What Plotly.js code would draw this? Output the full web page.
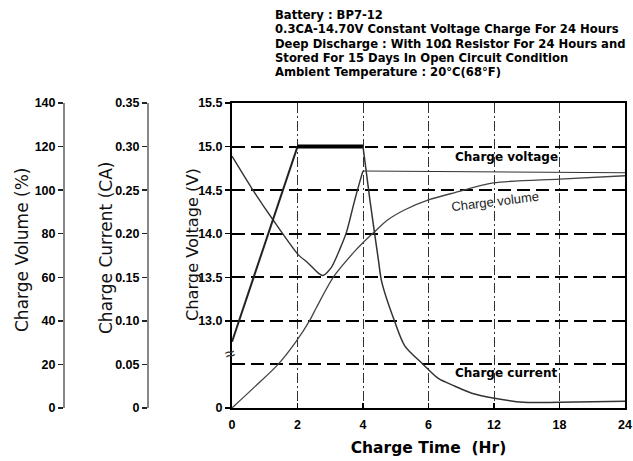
<!DOCTYPE html>
<html>
<head>
<meta charset="utf-8">
<script src="https://cdn.plot.ly/plotly-3.0.1.min.js"></script>
<style>html,body{margin:0;padding:0;background:#fff;}#chart{width:633px;height:461px;}</style>
</head>
<body>
<div id="chart"></div>
<script>
// ---- data (hours on the charge-time axis) ----
const timeTickHours = [0, 2, 4, 6, 12, 18, 24];
const timeTickText = ["0", "2", "4", "6", "12", "18", "24"];

const currentHours = [0, 2, 4, 4.21, 4.47, 4.57, 4.96, 5.28, 5.84, 6.9, 8.43, 9.96, 11.9, 14.7, 18, 24];
const currentCA    = [0.076, 0.300, 0.300, 0.239, 0.170, 0.145, 0.100, 0.071, 0.050, 0.034, 0.025, 0.017, 0.0115, 0.0065, 0.0066, 0.0078];

const voltageHours = [0, 0.59, 1.25, 2.02, 2.32, 2.63, 2.78, 3.03, 3.29, 3.49, 3.75, 3.95, 4, 24];
const voltageV     = [14.89, 14.53, 14.16, 13.76, 13.665, 13.55, 13.52, 13.61, 13.82, 14.01, 14.39, 14.66, 14.72, 14.70];

const volumeHours = [0, 0.70, 1.40, 1.96, 2.37, 2.57, 3.11, 3.75, 3.96, 4.31, 4.76, 5.28, 6, 8.43, 11.93, 18, 24];
const volumePct   = [0, 9.8, 19.9, 30.6, 40.1, 45.9, 60.4, 72.0, 75.3, 80.3, 86.4, 91, 95.5, 98.9, 103.3, 105.1, 106.6];

const voltageTickVals = [12, 13, 13.5, 14, 14.5, 15, 15.5];
const voltageTickText = ["0", "13.0", "13.5", "14.0", "14.5", "15.0", "15.5"];
const currentTickVals = [0, 0.05, 0.10, 0.15, 0.20, 0.25, 0.30, 0.35];
const currentTickText = ["0", "0.05", "0.10", "0.15", "0.20", "0.25", "0.30", "0.35"];

const headerLines = [
  "Battery : BP7-12",
  "0.3CA-14.70V Constant Voltage Charge For 24 Hours",
  "Deep Discharge : With 10\u03A9 Resistor For 24 Hours and",
  "Stored For 15 Days In Open Circuit Condition",
  "Ambient Temperature : 20\u00B0C(68\u00B0F)"
];
const yTitles = ["Charge Volume (%)", "Charge Current (CA)", "Charge Voltage (V)"];

// piecewise time axis: 0-6 h at 2 h per division, 6-24 h at 6 h per division
function timeScale(h) { return h <= 6 ? h / 2 : 3 + (h - 6) / 6; }
function slice(xs, ys, lo, hi) {
  const a = [], b = [];
  xs.forEach((h, i) => { if (h >= lo && h <= hi) { a.push(timeScale(h)); b.push(ys[i]); } });
  return { x: a, y: b };
}

const FONT = "Liberation Sans, Arial, sans-serif";
const DFONT = "DejaVu Sans, Liberation Sans, sans-serif";

const vol = slice(volumeHours, volumePct, 0, 24);
const vRise = slice(voltageHours, voltageV, 0, 4);
const vFlat = slice(voltageHours, voltageV, 4, 24);
const cRamp = slice(currentHours, currentCA, 0, 2);
const cCC = slice(currentHours, currentCA, 2, 4);
const cDecay = slice(currentHours, currentCA, 4, 24);

const traces = [
  { x: vol.x, y: vol.y, yaxis: "y2", mode: "lines", line: { color: "#444", width: 1.3, shape: "spline", smoothing: 0.8 } },
  { x: vRise.x, y: vRise.y, yaxis: "y", mode: "lines", line: { color: "#333", width: 1.4, shape: "spline", smoothing: 0.7 } },
  { x: vFlat.x, y: vFlat.y, yaxis: "y", mode: "lines", line: { color: "#333", width: 1.1 } },
  { x: cRamp.x, y: cRamp.y, yaxis: "y3", mode: "lines", line: { color: "#222", width: 2 } },
  { x: cCC.x, y: cCC.y, yaxis: "y3", mode: "lines", line: { color: "#000", width: 4 } },
  { x: cDecay.x, y: cDecay.y, yaxis: "y3", mode: "lines", line: { color: "#333", width: 1.5, shape: "spline", smoothing: 0.8 } },
  { x: [0], y: [12], yaxis: "y4", mode: "markers", marker: { opacity: 0 } }
];

const tickFont = { family: FONT, size: 12.5, color: "#000", weight: "bold" };

const ml = 10, mr = 8, plotW = 633 - ml - mr, plotTop = 103, plotH = 305;
const pxX = px => (px - ml) / plotW;
const pxY = py => (plotTop + plotH - py) / plotH;

const annotations = headerLines.map((t, i) => ({
  text: t, xref: "paper", yref: "paper",
  x: pxX(273), y: pxY(15 + i * 14.3),
  xanchor: "left", yanchor: "middle", showarrow: false,
  font: { family: DFONT, size: 11.6, color: "#000", weight: "bold" }
}));

const yTitleX = [22, 106, 192], yTitleY = [250, 248, 245], yTitleSize = [17, 17, 16.2];
yTitles.forEach((t, i) => annotations.push({
  text: t, xref: "paper", yref: "paper", x: pxX(yTitleX[i]), y: pxY(yTitleY[i]),
  textangle: -90, xanchor: "center", yanchor: "middle", showarrow: false,
  font: { family: DFONT, size: yTitleSize[i], color: "#111" }
}));

annotations.push(
  { text: "Charge voltage", xref: "x", yref: "y", x: timeScale(13.1), y: 14.885,
    showarrow: false, font: { family: DFONT, size: 12, color: "#000", weight: "bold" } },
  { text: "Charge volume", xref: "x", yref: "y", x: timeScale(12.1), y: 14.37,
    textangle: -7, showarrow: false, font: { family: FONT, size: 13, color: "#222" } },
  { text: "Charge current", xref: "x", yref: "y", x: timeScale(13.1), y: 12.405,
    showarrow: false, font: { family: DFONT, size: 12, color: "#000", weight: "bold" } },
  { text: "\u2248", xref: "x", yref: "y", x: 0, y: 12.62, xanchor: "center", xshift: -2,
    textangle: -15, showarrow: false, font: { family: FONT, size: 18, color: "#333" } }
);

const layout = {
  width: 633, height: 461,
  margin: { l: ml, r: mr, t: plotTop, b: 53, pad: 0 },
  paper_bgcolor: "#fff", plot_bgcolor: "#fff",
  showlegend: false, hovermode: false,
  xaxis: {
    domain: [pxX(232), 1], range: [0, 6],
    tickvals: timeTickHours.map(timeScale), ticktext: timeTickText,
    showgrid: true, gridcolor: "#333", gridwidth: 1, griddash: "10px,3px,2px,3px",
    showline: true, linecolor: "#000", linewidth: 2, mirror: true,
    ticks: "inside", ticklen: 5, tickcolor: "#000", tickwidth: 1.5, ticklabelstandoff: 4,
    tickfont: tickFont, zeroline: false,
    title: { text: "Charge Time  (Hr)", standoff: 11, font: { family: DFONT, size: 15.5, color: "#000", weight: "bold" } }
  },
  yaxis: {
    range: [12, 15.5], tickvals: voltageTickVals, ticktext: voltageTickText,
    showline: true, linecolor: "#000", linewidth: 2, mirror: true,
    ticks: "outside", ticklen: 5, tickcolor: "#000", tickwidth: 1.5,
    tickfont: tickFont, showgrid: false, zeroline: false
  },
  yaxis2: {
    overlaying: "y", anchor: "free", position: pxX(63), side: "left",
    range: [0, 140], dtick: 20, tick0: 0,
    showline: true, linecolor: "#888", linewidth: 1.5,
    ticks: "outside", ticklen: 5, tickcolor: "#222", tickwidth: 1.5,
    tickfont: tickFont, showgrid: false, zeroline: false
  },
  yaxis3: {
    overlaying: "y", anchor: "free", position: pxX(147), side: "left",
    range: [0, 0.35], tickvals: currentTickVals, ticktext: currentTickText,
    showline: true, linecolor: "#888", linewidth: 1.5,
    ticks: "outside", ticklen: 5, tickcolor: "#222", tickwidth: 1.5,
    tickfont: tickFont, showgrid: false, zeroline: false
  },
  yaxis4: {
    overlaying: "y", anchor: "x", side: "right",
    range: [12, 15.5], tick0: 12, dtick: 0.5,
    showgrid: true, gridcolor: "#000", gridwidth: 2, griddash: "13px,6px",
    showticklabels: false, ticks: "", showline: false, zeroline: false
  },
  annotations: annotations
};

Plotly.newPlot("chart", traces, layout, { staticPlot: true, displayModeBar: false });
</script>
</body>
</html>
